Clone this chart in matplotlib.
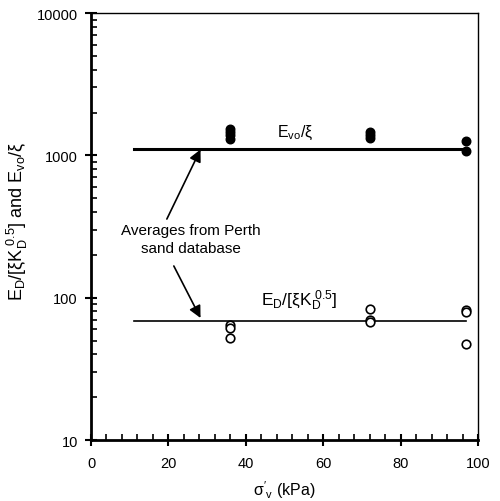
import matplotlib as mpl
mpl.use('Agg')
import matplotlib.pyplot as plt
import matplotlib.ticker as ticker

plt.rcParams['font.family'] = ['Liberation Sans', 'DejaVu Sans']
plt.rcParams['mathtext.fontset'] = 'custom'
plt.rcParams['mathtext.rm'] = 'Liberation Sans'
plt.rcParams['mathtext.it'] = 'Liberation Sans'
plt.rcParams['mathtext.default'] = 'rm'

# data
evo_x = [36, 36, 36, 36, 72, 72, 72, 97, 97]
evo_y = [1300, 1380, 1450, 1520, 1330, 1400, 1460, 1270, 1070]
ed_x = [36, 36, 36, 72, 72, 72, 97, 97, 97]
ed_y = [64, 61, 52, 83, 70, 67, 82, 79, 47]
avg_x = [11, 97]
evo_avg = 1100
ed_avg = 69

fig = plt.figure(figsize=(5.0, 5.02), dpi=100)
ax = fig.add_axes([0.182, 0.1215, 0.774, 0.8505])

ax.plot(avg_x, [evo_avg, evo_avg], color='black', linewidth=2.2)
ax.plot(avg_x, [ed_avg, ed_avg], color='black', linewidth=1.2)
ax.scatter(evo_x, evo_y, s=38, color='black', zorder=3)
ax.scatter(ed_x, ed_y, s=38, facecolors='white', edgecolors='black', linewidths=1.2, zorder=3)

ax.set_yscale('log')
ax.set_xlim(0, 100)
ax.set_ylim(10, 10000)
ax.xaxis.set_major_locator(ticker.MultipleLocator(20))
ax.xaxis.set_minor_locator(ticker.MultipleLocator(4))
ax.yaxis.set_major_locator(ticker.LogLocator(base=10))
ax.yaxis.set_minor_locator(ticker.LogLocator(base=10, subs=range(2, 10)))
ax.yaxis.set_major_formatter(ticker.FuncFormatter(lambda v, p: '%d' % v))
ax.yaxis.set_minor_formatter(ticker.NullFormatter())

ax.tick_params(which='major', direction='inout', length=9, width=1.5, labelsize=10.5)
ax.tick_params(axis='x', which='major', pad=7)
ax.tick_params(axis='y', which='major', pad=5)
ax.tick_params(which='minor', direction='in', length=4, width=1.2)
ax.spines['left'].set_linewidth(2)
ax.spines['bottom'].set_linewidth(2)
ax.spines['top'].set_linewidth(1)
ax.spines['right'].set_linewidth(1)

ax.text(48, 1470, r'$\mathregular{E_{vo}/\xi}$', fontsize=11.5, ha='left', va='center')
ax.text(44, 96, r'$\mathregular{E_D/[\xi K_D^{\ 0.5}]}$', fontsize=12.5, ha='left', va='center')

ax.annotate('', xy=(28.3, evo_avg), xytext=(19.6, 357),
            arrowprops=dict(arrowstyle='-|>', color='black', lw=1.2, mutation_scale=18,
                            shrinkA=0, shrinkB=0))
ax.annotate('', xy=(28.3, ed_avg + 3), xytext=(21.4, 167),
            arrowprops=dict(arrowstyle='-|>', color='black', lw=1.2, mutation_scale=18,
                            shrinkA=0, shrinkB=0))
ax.text(25.7, 258, 'Averages from Perth\nsand database', fontsize=11, ha='center', va='center',
        linespacing=1.3)

ax.set_xlabel(r"$\mathregular{\sigma'_v}$ (kPa)", fontsize=11.5, labelpad=6)
ax.set_ylabel(r'$\mathregular{E_D/[\xi K_D^{\ 0.5}]}$ and $\mathregular{E_{vo}/\xi}$', fontsize=13)
ax.yaxis.set_label_coords(-0.158, 0.515)

plt.savefig('out.png')
